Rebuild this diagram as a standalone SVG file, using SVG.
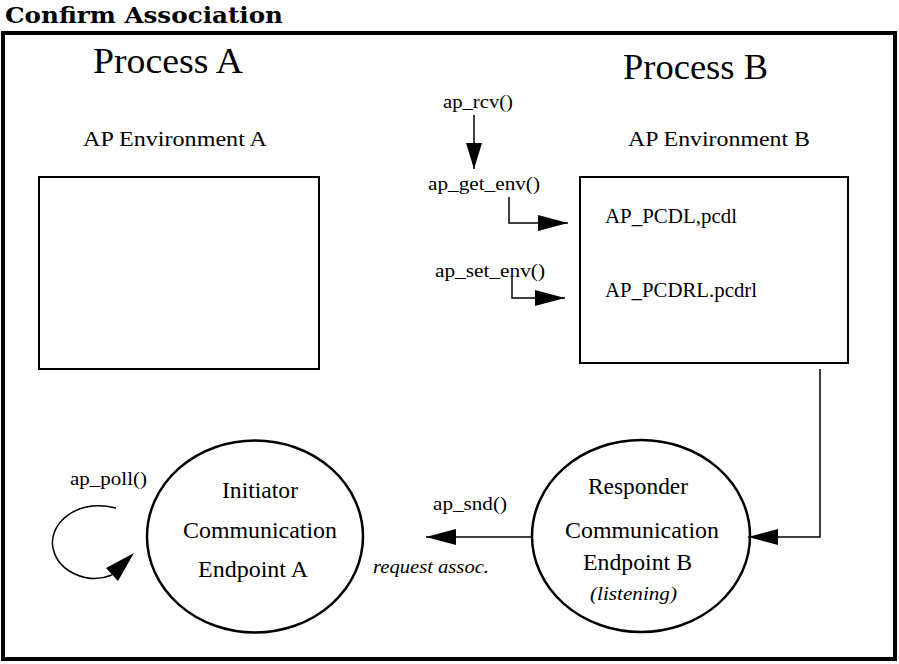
<svg xmlns="http://www.w3.org/2000/svg" width="899" height="664" viewBox="0 0 899 664">
<style>
  .t { font-family: "Liberation Serif", "Times New Roman", serif; fill: #000; }
  .title { font-family: "DejaVu Serif", "Liberation Serif", serif; font-weight: bold; fill: #000; }
  .it { font-style: italic; }
  .box { fill: #fff; stroke: #000; stroke-width: 2; }
  .ell { fill: #fff; stroke: #000; stroke-width: 2.5; }
  .conn { fill: none; stroke: #000; stroke-width: 1.5; }
</style>
<defs>
  <marker id="ah" markerUnits="userSpaceOnUse" markerWidth="30" markerHeight="16" refX="30" refY="8" orient="auto">
    <path d="M0,0 L30,8 L0,16 z" fill="#000"/>
  </marker>
  <marker id="ahs" markerUnits="userSpaceOnUse" markerWidth="26" markerHeight="16" refX="26" refY="8" orient="auto">
    <path d="M0,0 L26,8 L0,16 z" fill="#000"/>
  </marker>
</defs>
<rect width="899" height="664" fill="#fff"/>
<text class="title" x="5" y="23" font-size="23" textLength="278" lengthAdjust="spacingAndGlyphs">Confirm Association</text>
<rect x="3" y="33" width="892" height="626" fill="none" stroke="#000" stroke-width="4"/>

<g id="processA">
  <text class="t" x="93" y="73" font-size="35" textLength="150" lengthAdjust="spacingAndGlyphs">Process A</text>
  <text class="t" x="83" y="146" font-size="22" textLength="184" lengthAdjust="spacingAndGlyphs">AP Environment A</text>
</g>
<g id="processB">
  <text class="t" x="623" y="79" font-size="35" textLength="145" lengthAdjust="spacingAndGlyphs">Process B</text>
  <text class="t" x="628" y="146" font-size="22" textLength="182" lengthAdjust="spacingAndGlyphs">AP Environment B</text>
</g>

<g id="envA">
  <rect class="box" x="39" y="177" width="280" height="192"/>
</g>
<g id="envB">
  <rect class="box" x="580" y="177" width="268" height="186"/>
  <text class="t" x="605" y="223" font-size="20" textLength="132" lengthAdjust="spacingAndGlyphs">AP_PCDL,pcdl</text>
  <text class="t" x="605" y="297" font-size="20" textLength="152" lengthAdjust="spacingAndGlyphs">AP_PCDRL.pcdrl</text>
</g>

<g id="initiator">
  <ellipse class="ell" cx="255" cy="536.5" rx="108" ry="96"/>
  <text class="t" x="222" y="498" font-size="23" textLength="76" lengthAdjust="spacingAndGlyphs">Initiator</text>
  <text class="t" x="183" y="538" font-size="23" textLength="154" lengthAdjust="spacingAndGlyphs">Communication</text>
  <text class="t" x="198" y="577" font-size="23" textLength="110" lengthAdjust="spacingAndGlyphs">Endpoint A</text>
</g>
<g id="responder">
  <ellipse class="ell" cx="641" cy="536" rx="109" ry="96"/>
  <text class="t" x="588" y="494" font-size="23" textLength="100" lengthAdjust="spacingAndGlyphs">Responder</text>
  <text class="t" x="565" y="538" font-size="23" textLength="154" lengthAdjust="spacingAndGlyphs">Communication</text>
  <text class="t" x="583" y="570" font-size="23" textLength="109" lengthAdjust="spacingAndGlyphs">Endpoint B</text>
  <text class="t it" x="590" y="600" font-size="19" textLength="87" lengthAdjust="spacingAndGlyphs">(listening)</text>
</g>

<g id="labels">
  <text class="t" x="443" y="108" font-size="19" textLength="70" lengthAdjust="spacingAndGlyphs">ap_rcv()</text>
  <text class="t" x="428" y="190" font-size="19" textLength="112" lengthAdjust="spacingAndGlyphs">ap_get_env()</text>
  <text class="t" x="435" y="277" font-size="19" textLength="110" lengthAdjust="spacingAndGlyphs">ap_set_env()</text>
  <text class="t" x="433" y="510" font-size="19" textLength="74" lengthAdjust="spacingAndGlyphs">ap_snd()</text>
  <text class="t it" x="373" y="573" font-size="19" textLength="116" lengthAdjust="spacingAndGlyphs">request assoc.</text>
  <text class="t" x="70" y="485" font-size="19" textLength="77" lengthAdjust="spacingAndGlyphs">ap_poll()</text>
</g>

<g id="connectors">
  <line class="conn" x1="474" y1="115" x2="474" y2="169" marker-end="url(#ahs)"/>
  <polyline class="conn" points="509,197 509,223 568,223" marker-end="url(#ah)"/>
  <polyline class="conn" points="512,277 512,298 565,298" marker-end="url(#ah)"/>
  <polyline class="conn" points="820,369 820,537 748,537" marker-end="url(#ah)"/>
  <line class="conn" x1="531" y1="537" x2="426" y2="537" marker-end="url(#ah)"/>
  <path class="conn" d="M116,508 C75,498 48,525 53,548 C58,572 88,585 112,575"/>
  <polygon points="134,553 106,568 118,581" fill="#000"/>
</g>
</svg>
